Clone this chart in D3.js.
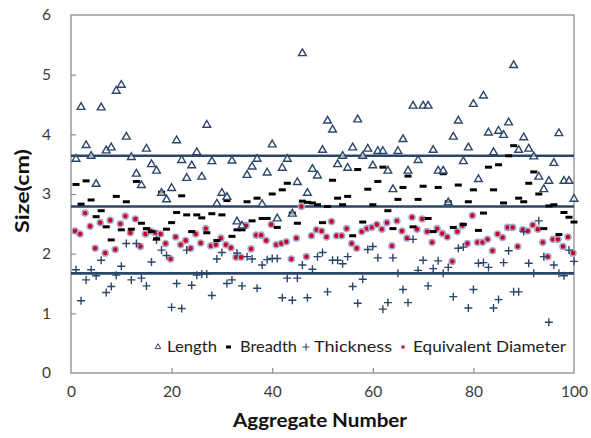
<!DOCTYPE html>
<html><head><meta charset="utf-8">
<script src="https://cdn.jsdelivr.net/npm/d3@7"></script>
<style>body{margin:0;background:#fff}svg{display:block}text{font-family:Lato,"Open Sans",sans-serif}</style>
</head><body>
<svg id="c" width="591" height="438"></svg>
<script>
const lengthVals = [3.60,4.47,3.83,3.65,3.18,4.46,3.74,3.79,4.74,4.84,3.97,3.63,3.35,3.16,3.77,3.51,3.40,3.03,2.92,3.11,
3.91,3.58,3.28,3.49,3.71,3.30,4.17,3.56,2.85,3.03,2.96,3.57,2.55,2.48,3.33,3.47,3.60,2.84,3.37,3.84,
2.60,3.45,3.60,2.68,3.21,5.37,3.03,3.43,3.32,3.75,4.24,4.09,3.51,3.65,3.45,3.79,4.26,3.65,3.77,3.49,
3.73,3.73,3.40,3.09,3.73,3.93,3.40,4.49,3.58,4.49,4.49,3.75,3.40,3.40,2.87,3.97,4.24,3.56,3.79,4.52,
3.26,4.66,4.04,3.71,4.07,4.00,4.21,5.17,3.75,3.96,3.77,3.64,3.30,3.09,3.23,3.53,4.03,3.23,3.23,2.93];
const breadthVals = [3.16,2.83,3.22,2.90,2.62,2.72,2.45,2.23,2.96,2.40,2.87,2.41,3.21,2.51,2.42,2.37,2.25,3.03,2.41,2.52,
2.69,2.97,2.65,2.37,2.65,2.60,2.35,2.67,2.22,2.65,2.89,2.29,2.40,2.40,2.87,2.55,2.93,2.59,2.59,3.00,
2.44,3.07,3.18,2.68,2.51,2.88,2.86,2.85,2.82,2.52,2.79,3.23,2.93,2.82,2.96,2.30,3.41,2.53,3.08,2.82,
3.21,3.45,2.72,2.42,2.91,3.11,3.30,2.45,2.91,3.13,2.59,2.37,3.11,3.34,2.87,2.44,3.15,2.49,2.87,3.07,
2.39,2.68,3.45,3.07,3.49,2.85,3.64,3.81,2.93,2.87,3.18,3.37,3.00,2.42,2.80,2.82,2.32,2.69,2.61,2.53];
const thicknessVals = [1.73,1.21,1.56,1.73,1.63,1.89,1.35,1.45,1.64,1.79,2.17,1.56,2.17,1.59,1.46,1.86,2.23,2.06,1.97,1.10,
1.50,1.08,2.06,1.47,1.64,1.66,1.66,1.30,1.91,2.02,1.50,1.56,2.01,1.46,1.95,1.91,1.42,1.81,1.90,1.92,
1.92,1.26,1.59,1.22,1.59,1.81,1.26,1.74,1.95,2.02,1.36,1.89,1.89,1.83,1.95,1.45,1.17,1.57,2.07,2.12,
1.93,1.07,1.18,1.93,1.67,1.40,1.18,2.24,1.72,1.89,1.46,1.75,1.88,1.67,1.77,1.28,2.09,2.11,1.09,1.40,
1.84,1.85,1.77,1.09,1.23,1.85,2.05,1.36,1.36,2.37,1.84,1.67,2.55,1.95,0.85,1.81,1.67,1.63,2.06,1.87];
const eqDiameterVals = [2.38,2.33,2.68,2.46,2.09,2.52,2.01,2.56,2.07,2.50,2.63,2.35,2.58,2.12,2.33,2.38,2.35,2.33,2.17,1.91,
2.28,2.15,2.22,2.09,2.33,2.18,2.42,2.13,2.15,2.26,2.15,2.10,1.94,1.94,2.47,2.08,2.31,2.31,2.22,2.49,
2.15,2.17,2.20,1.91,2.26,2.79,1.95,2.30,2.40,2.38,2.28,2.54,2.30,2.30,2.42,2.17,2.09,2.37,2.42,2.44,
2.49,2.41,2.52,2.13,2.55,2.38,2.26,2.61,2.41,2.58,2.37,2.19,2.42,2.34,2.28,1.87,2.37,2.47,2.17,2.64,
2.19,2.19,2.24,2.05,2.33,2.27,2.44,2.44,2.12,2.40,2.38,2.48,2.41,2.19,1.95,2.24,2.24,2.12,2.28,2.01];
const refLines = [3.64, 2.79, 1.67];
const xTicks = [0,20,40,60,80,100];
const yTicks = [0,1,2,3,4,5,6];
const seriesNames = ["Length","Breadth","Thickness","Equivalent Diameter"];

const svg = d3.select("#c");
const L=71,R=574,T=15,B=373;
const x = d3.scaleLinear().domain([0,100]).range([L,R]);
const y = d3.scaleLinear().domain([0,6]).range([B,T]);
const navy="#2c4668", axisGray="#8c8c8c", txt="#3a3a3a";

// frame
svg.append("rect").attr("x",L).attr("y",T).attr("width",R-L).attr("height",B-T)
  .attr("fill","none").attr("stroke",axisGray).attr("stroke-width",1.3);

// axes ticks inward
const xa = svg.append("g").attr("transform",`translate(0,${B})`)
  .call(d3.axisBottom(x).tickValues(xTicks).tickSize(-5).tickPadding(13).tickFormat(d3.format("d")));
const ya = svg.append("g").attr("transform",`translate(${L},0)`)
  .call(d3.axisLeft(y).tickValues(yTicks).tickSize(-5).tickPadding(20).tickFormat(d3.format("d")));
[xa,ya].forEach(g=>{
  g.select(".domain").remove();
  g.selectAll(".tick line").attr("stroke",axisGray).attr("stroke-width",1.2);
  g.selectAll(".tick text").attr("fill",txt).style("font-size","15.5px").style("font-family","Lato,sans-serif");
});
xa.selectAll(".tick").filter(d=>d===0||d===100).select("line").remove();
ya.selectAll(".tick").filter(d=>d===0||d===6).select("line").remove();

// titles
svg.append("text").attr("x",320).attr("y",427).attr("text-anchor","middle")
  .style("font-size","19px").style("font-weight","bold").attr("fill","#111")
  .attr("textLength",174).attr("lengthAdjust","spacingAndGlyphs").text("Aggregate Number");
svg.append("text").attr("transform",`translate(29,191) rotate(-90)`).attr("text-anchor","middle")
  .style("font-size","19px").style("font-weight","bold").attr("fill","#111")
  .attr("textLength",84).attr("lengthAdjust","spacingAndGlyphs").text("Size(cm)");

// reference lines
svg.append("g").selectAll("line").data(refLines).join("line")
  .attr("x1",L).attr("x2",R).attr("y1",d=>y(d)).attr("y2",d=>y(d))
  .attr("stroke",navy).attr("stroke-width",2.6);

const idx = d3.range(1,101);
const tri = d3.symbol().type(d3.symbolTriangle).size(26);
const plusPath = "M-4,0H4M0,-4V4";

// Eq diameter
svg.append("g").selectAll("circle").data(eqDiameterVals).join("circle")
  .attr("cx",(d,i)=>x(idx[i])-1).attr("cy",d=>y(d)).attr("r",3)
  .attr("fill","#d00018").attr("stroke","#a8a8d4").attr("stroke-width",1.6);
// thickness
svg.append("g").selectAll("path").data(thicknessVals).join("path")
  .attr("transform",(d,i)=>`translate(${x(idx[i])},${y(d)})`).attr("d",plusPath)
  .attr("stroke",navy).attr("stroke-width",1.4).attr("fill","none");
// breadth
svg.append("g").selectAll("rect").data(breadthVals).join("rect")
  .attr("x",(d,i)=>x(idx[i])-3.5).attr("y",d=>y(d)-1.5).attr("width",7).attr("height",3).attr("fill","#000");
// length
svg.append("g").selectAll("path").data(lengthVals).join("path")
  .attr("transform",(d,i)=>`translate(${x(idx[i])},${y(d)+0.8})`).attr("d",tri)
  .attr("fill","#fff").attr("fill-opacity",0.6).attr("stroke",navy).attr("stroke-width",1.4);

// legend
const lg = svg.append("g");
const ly = 347;
lg.append("path").attr("transform",`translate(158,${ly})`).attr("d",d3.symbol().type(d3.symbolTriangle).size(14))
  .attr("fill","#fff").attr("stroke",navy).attr("stroke-width",1);
lg.append("rect").attr("x",226).attr("y",ly-1.5).attr("width",5).attr("height",3).attr("fill","#000");
lg.append("path").attr("transform",`translate(306,${ly})`).attr("d","M-3.5,0H3.5M0,-3.5V3.5").attr("stroke",navy).attr("stroke-width",1.2);
lg.append("circle").attr("cx",403).attr("cy",ly).attr("r",2).attr("fill","#d00018").attr("stroke","#c8c8e4").attr("stroke-width",1);
const lx=[167,240,314,413], lw=[50,57,78,153];
seriesNames.forEach((n,i)=>{
  lg.append("text").attr("x",lx[i]).attr("y",ly+5).style("font-size","15px").attr("fill","#222")
    .attr("textLength",lw[i]).attr("lengthAdjust","spacingAndGlyphs").text(n);
});
</script>
</body></html>
